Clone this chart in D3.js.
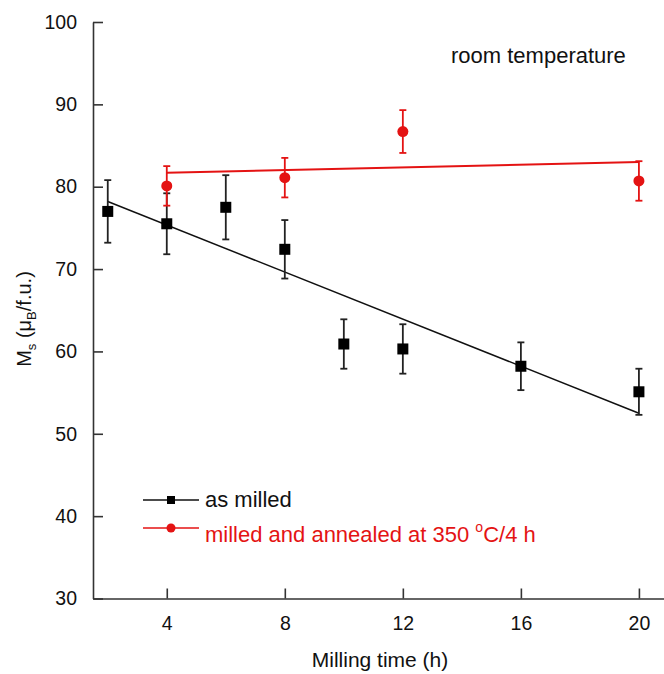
<!DOCTYPE html>
<html><head><meta charset="utf-8">
<script src="https://cdn.jsdelivr.net/npm/d3@7"></script>
<style>body{margin:0;background:#fff}svg{display:block}text{font-family:"Liberation Sans",Arial,sans-serif}</style>
</head><body>
<svg id="c" width="664" height="674"></svg>
<script>
const timeMilled = [2,4,6,8,10,12,16,20];
const msMilled = [77.0,75.5,77.5,72.4,60.9,60.3,58.2,55.1];
const errMilled = [3.8,3.7,3.9,3.55,3.0,3.0,2.9,2.8];
const timeAnnealed = [4,8,12,20];
const msAnnealed = [80.1,81.1,86.7,80.7];
const errAnnealed = [2.4,2.4,2.6,2.4];
const fitMilledT = [2,20], fitMilledY = [78.2,52.5];
const fitAnnealedT = [4,20], fitAnnealedY = [81.7,83.0];
const xTicks = [4,8,12,16,20];
const yTicks = [30,40,50,60,70,80,90,100];

const RED = "#e41313", BLK = "#111";
const svg = d3.select("#c");
const x = d3.scaleLinear().domain([1.5,20.85]).range([93,664]);
const y = d3.scaleLinear().domain([30,100]).range([598.5,22]);

// axes
const gx = svg.append("g").attr("transform","translate(0,598.5)")
  .call(d3.axisBottom(x).tickValues(xTicks).tickFormat(d3.format("d")).tickSizeInner(-10).tickSizeOuter(0).tickPadding(18));
const gy = svg.append("g").attr("transform","translate(93,0)")
  .call(d3.axisLeft(y).tickValues(yTicks).tickFormat(d3.format("d")).tickSizeInner(-10).tickSizeOuter(0).tickPadding(16));
[gx,gy].forEach(g=>{
  g.select(".domain").attr("stroke","#333").attr("stroke-width",1.6);
  g.selectAll(".tick line").attr("stroke","#333").attr("stroke-width",1.6);
  g.selectAll(".tick text").attr("font-size",19.5).attr("fill","#111").attr("font-family",'"Liberation Sans",Arial,sans-serif');
});

// fit lines
const line = d3.line().x(d=>x(d[0])).y(d=>y(d[1]));
svg.append("path").datum(d3.zip(fitMilledT,fitMilledY)).attr("d",line).attr("fill","none").attr("stroke",BLK).attr("stroke-width",1.5);
svg.append("path").datum(d3.zip(fitAnnealedT,fitAnnealedY)).attr("d",line).attr("fill","none").attr("stroke",RED).attr("stroke-width",2);

function errBars(ts, ms, es, color){
  const g = svg.append("g").attr("stroke",color).attr("stroke-width",1.8);
  ts.forEach((t,i)=>{
    const cx = x(t), y1 = y(ms[i]+es[i]), y2 = y(ms[i]-es[i]);
    g.append("line").attr("x1",cx).attr("x2",cx).attr("y1",y1).attr("y2",y2);
    g.append("line").attr("x1",cx-3.5).attr("x2",cx+3.5).attr("y1",y1).attr("y2",y1);
    g.append("line").attr("x1",cx-3.5).attr("x2",cx+3.5).attr("y1",y2).attr("y2",y2);
  });
}
errBars(timeMilled,msMilled,errMilled,"#222");
svg.append("g").selectAll("rect").data(d3.zip(timeMilled,msMilled)).join("rect")
  .attr("x",d=>x(d[0])-5.5).attr("y",d=>y(d[1])-5.5).attr("width",11).attr("height",11).attr("fill","#000");
errBars(timeAnnealed,msAnnealed,errAnnealed,RED);
svg.append("g").selectAll("circle").data(d3.zip(timeAnnealed,msAnnealed)).join("circle")
  .attr("cx",d=>x(d[0])).attr("cy",d=>y(d[1])).attr("r",5.5).attr("fill",RED);

// annotation
svg.append("text").attr("x",451).attr("y",63).attr("font-size",22).attr("fill","#111").text("room temperature");

// legend
svg.append("line").attr("x1",143).attr("x2",199).attr("y1",500).attr("y2",500).attr("stroke",BLK).attr("stroke-width",1.5);
svg.append("rect").attr("x",167).attr("y",496).attr("width",8).attr("height",8).attr("fill","#000");
svg.append("text").attr("x",205).attr("y",507).attr("font-size",22).attr("fill","#111").text("as milled");
svg.append("line").attr("x1",143).attr("x2",199).attr("y1",528).attr("y2",528).attr("stroke",RED).attr("stroke-width",1.5);
svg.append("circle").attr("cx",171).attr("cy",528).attr("r",4.5).attr("fill",RED);
const t2 = svg.append("text").attr("x",205).attr("y",542).attr("font-size",22).attr("fill",RED);
t2.append("tspan").text("milled and annealed at 350 ");
t2.append("tspan").attr("font-size",14).attr("dy",-10).text("o");
t2.append("tspan").attr("dy",10).text("C/4 h");

// axis titles
svg.append("text").attr("x",380).attr("y",667).attr("text-anchor","middle").attr("font-size",21).attr("fill","#111").text("Milling time (h)");
const yl = svg.append("text").attr("transform","translate(31,319) rotate(-90)").attr("text-anchor","middle").attr("font-size",20).attr("fill","#111");
yl.append("tspan").text("M");
yl.append("tspan").attr("font-size",13).attr("dy",5).text("s");
yl.append("tspan").attr("dy",-5).text(" (μ");
yl.append("tspan").attr("font-size",13).attr("dy",5).text("B");
yl.append("tspan").attr("dy",-5).text("/f.u.)");
</script>
</body></html>
